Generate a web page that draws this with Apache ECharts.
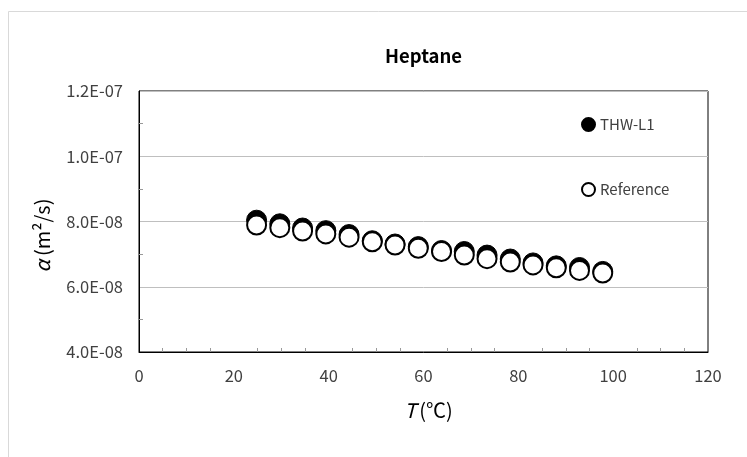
<!DOCTYPE html>
<html>
<head>
    <meta charset="UTF-8">
    <title>Heptane</title>
    <script type="text/javascript" src="https://cdn.jsdelivr.net/npm/echarts@6/dist/echarts.min.js"></script>
    <style type="text/css">
        html, body { margin: 0; padding: 0; background: #fff; }
        #main { width: 747px; height: 457px; }
    </style>
</head>
<body>
<div id="main"></div>
<script>
// 温度 (°C)
var temps = [24.8, 29.7, 34.5, 39.4, 44.3, 49.2, 54.0, 58.9, 63.8, 68.6, 73.4, 78.3, 83.1, 88.0, 92.9, 97.8];
// 热扩散率 (m²/s)
var thwL1 = [8.04e-8, 7.93e-8, 7.80e-8, 7.72e-8, 7.60e-8, 7.41e-8, 7.31e-8, 7.23e-8, 7.11e-8, 7.08e-8, 6.97e-8, 6.85e-8, 6.73e-8, 6.64e-8, 6.59e-8, 6.47e-8];
var reference = [7.89e-8, 7.81e-8, 7.71e-8, 7.62e-8, 7.52e-8, 7.38e-8, 7.28e-8, 7.18e-8, 7.08e-8, 6.97e-8, 6.86e-8, 6.76e-8, 6.67e-8, 6.58e-8, 6.50e-8, 6.42e-8];
var seriesNames = ['THW-L1', 'Reference'];

var font = '"Noto Sans CJK KR", "Noto Sans", sans-serif';

function pairs(xs, ys) {
    var out = [];
    for (var i = 0; i < xs.length; i++) out.push([xs[i], ys[i]]);
    return out;
}

function sci(v) {
    var e = Math.floor(Math.log10(v) + 1e-9);
    var m = v / Math.pow(10, e);
    return m.toFixed(1) + 'E-' + String(-e).padStart(2, '0');
}

var myChart = echarts.init(document.getElementById('main'));
myChart.setOption({
    backgroundColor: '#fff',
    animation: false,
    textStyle: { fontFamily: font },
    graphic: [{
        type: 'rect',
        shape: { x: 8.5, y: 11.5, width: 800, height: 500 },
        style: { fill: 'none', stroke: '#d9d9d9', lineWidth: 1 },
        silent: true
    }],
    title: {
        text: 'Heptane',
        left: 385,
        top: 47,
        padding: 0,
        textStyle: { fontFamily: font, fontSize: 18.5, fontWeight: 'bold', color: '#000' }
    },
    legend: {
        data: seriesNames,
        orient: 'vertical',
        left: 576,
        top: 112,
        itemGap: 50,
        itemWidth: 13,
        itemHeight: 13,
        textStyle: { fontFamily: font, fontSize: 15, color: '#404040' }
    },
    grid: {
        left: 139,
        top: 91,
        right: 39,
        bottom: 105,
        show: true,
        borderColor: '#000',
        borderWidth: 1
    },
    xAxis: {
        type: 'value',
        min: 0,
        max: 120,
        interval: 20,
        name: '{i|T}(℃)',
        nameLocation: 'middle',
        nameGap: 48,
        nameTextStyle: {
            fontFamily: font, fontSize: 20, color: '#000', padding: [0, 0, 0, 10],
            rich: { i: { fontStyle: 'italic', fontSize: 20, fontFamily: font, color: '#000', padding: [0, 3, 0, 0] } }
        },
        axisLine: { lineStyle: { color: '#000' } },
        axisTick: { show: false, inside: true },
        minorTick: { show: true, splitNumber: 4, length: 4, lineStyle: { color: '#999' } },
        axisLabel: { fontSize: 16.5, color: '#404040', margin: 15 },
        splitLine: { show: false }
    },
    yAxis: {
        type: 'value',
        min: 4e-8,
        max: 1.2e-7,
        interval: 2e-8,
        name: '{i|α}(m²/s)',
        nameLocation: 'middle',
        nameGap: 87,
        nameRotate: 90,
        nameTextStyle: {
            fontFamily: font, fontSize: 20, color: '#000', padding: [0, 28, 0, 0],
            rich: { i: { fontStyle: 'italic', fontSize: 20, fontFamily: font, color: '#000', padding: [0, 4, 0, 0] } }
        },
        axisLine: { show: true, lineStyle: { color: '#000' } },
        axisTick: { show: false, inside: true },
        minorTick: { show: true, splitNumber: 2, length: 4, lineStyle: { color: '#999' } },
        axisLabel: { fontSize: 16.5, color: '#404040', margin: 16, formatter: sci },
        splitLine: { show: true, lineStyle: { color: '#bfbfbf' } }
    },
    series: [{
        name: seriesNames[0],
        type: 'scatter',
        symbol: 'circle',
        symbolSize: 20,
        itemStyle: { color: '#000', borderColor: '#000', borderWidth: 1, opacity: 1 },
        data: pairs(temps, thwL1)
    }, {
        name: seriesNames[1],
        type: 'scatter',
        symbol: 'circle',
        symbolSize: 19,
        itemStyle: { color: '#fff', borderColor: '#000', borderWidth: 2, opacity: 1 },
        data: pairs(temps, reference)
    }]
});
</script>
</body>
</html>
